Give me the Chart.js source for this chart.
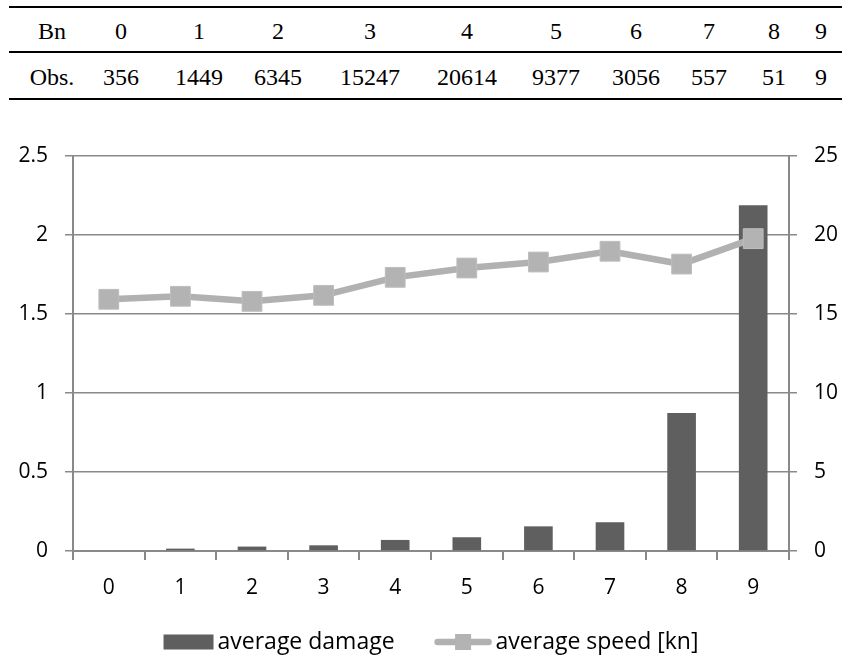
<!DOCTYPE html>
<html>
<head>
<meta charset="utf-8">
<script src="https://cdn.jsdelivr.net/npm/chart.js@4"></script>
<style>
  html, body { margin: 0; padding: 0; background: #fff; }
  #page { position: relative; width: 842px; height: 660px; overflow: hidden; }
  #obsTable { position: absolute; left: 0; top: 0; width: 842px; height: 110px;
    font-family: "Liberation Serif", "Times New Roman", serif; font-size: 24px; color: #000; }
  .rule { position: absolute; left: 9px; right: 0; height: 2px; background: #000; }
  .cell { position: absolute; transform: translateX(-50%); white-space: nowrap; line-height: 1; }
  #chartBox { position: absolute; left: 0; top: 120px; width: 842px; height: 540px; }
</style>
</head>
<body>
<div id="page">
  <div id="obsTable"></div>
  <div id="chartBox"><canvas id="chart"></canvas></div>
</div>
<script>
// Beaufort classes and number of observations per class
const beaufort = ['0', '1', '2', '3', '4', '5', '6', '7', '8', '9'];
const observations = [356, 1449, 6345, 15247, 20614, 9377, 3056, 557, 51, 9];

// Mean damage (left axis) and mean ship speed in knots (right axis)
const avgDamage = [0, 0.015, 0.028, 0.036, 0.07, 0.087, 0.156, 0.182, 0.873, 2.188];
const avgSpeed = [15.93, 16.12, 15.8, 16.18, 17.32, 17.91, 18.29, 18.97, 18.16, 19.77];

// Axis tick labels
const damageTickLabels = ['0', '0.5', '1', '1.5', '2', '2.5'];
const speedTickLabels = ['0', '5', '10', '15', '20', '25'];

const rowHeaders = ['Bn', 'Obs.'];

// ---- observation table above the chart ----
const tableCols = [52, 121, 199, 278, 370, 467, 556, 636, 709, 774, 821];
const tableRowTops = [19, 65];
const ruleTops = [6, 51, 98];
const table = document.getElementById('obsTable');
ruleTops.forEach(t => {
  const r = document.createElement('div');
  r.className = 'rule';
  r.style.top = t + 'px';
  table.appendChild(r);
});
const rows = [[rowHeaders[0], ...beaufort], [rowHeaders[1], ...observations.map(String)]];
rows.forEach((row, ri) => {
  row.forEach((txt, ci) => {
    const c = document.createElement('div');
    c.className = 'cell';
    c.textContent = txt;
    c.style.left = tableCols[ci] + 'px';
    c.style.top = tableRowTops[ri] + 'px';
    table.appendChild(c);
  });
});

// ---- chart ----
const FONT = '"Open Sans", "Noto Sans", sans-serif';
const FS = 21;
const axisGrey = '#898989';
const barColor = '#5f5f5f';
const lineColor = '#b1b1b1';
const markerColor = '#b3b3b3';

// Legend drawn under the axis: swatch + label per dataset, centred on the plot area
const seriesLegend = {
  id: 'seriesLegend',
  afterDraw(chart, args, opts) {
    const g = chart.ctx;
    const ca = chart.chartArea;
    const dsList = chart.data.datasets;
    g.save();
    g.font = `${opts.fontSize}px ${opts.fontFamily}`;
    g.textBaseline = 'middle';
    g.textAlign = 'left';
    const textW = dsList.map(ds => g.measureText(ds.label).width);
    const itemW = dsList.map((ds, i) => opts.swatchWidths[i] + opts.textGap + textW[i]);
    const total = itemW.reduce((a, b) => a + b, 0) + opts.itemGap * (dsList.length - 1);
    let x = (ca.left + ca.right) / 2 - total / 2;
    const y = ca.bottom + opts.offsetY;
    dsList.forEach((ds, i) => {
      const sw = opts.swatchWidths[i];
      if (ds.type === 'bar') {
        g.fillStyle = ds.backgroundColor;
        g.fillRect(x, y - opts.boxHeight / 2, sw, opts.boxHeight);
      } else {
        g.strokeStyle = ds.borderColor;
        g.lineWidth = ds.borderWidth;
        g.lineCap = 'round';
        g.beginPath();
        g.moveTo(x + 3, y);
        g.lineTo(x + sw - 3, y);
        g.stroke();
        const s = opts.markerSize;
        g.fillStyle = ds.pointBackgroundColor;
        g.fillRect(x + sw / 2 - s / 2, y - s / 2, s, s);
      }
      g.fillStyle = '#000';
      g.fillText(ds.label, x + sw + opts.textGap, y);
      x += itemW[i] + opts.itemGap;
    });
    g.restore();
  }
};

const ctx = document.getElementById('chart');
new Chart(ctx, {
  data: {
    labels: beaufort,
    datasets: [
      {
        type: 'bar',
        label: 'average damage',
        data: avgDamage,
        yAxisID: 'yDamage',
        backgroundColor: barColor,
        categoryPercentage: 1,
        barPercentage: 0.4,
        order: 2
      },
      {
        type: 'line',
        label: 'average speed [kn]',
        data: avgSpeed,
        yAxisID: 'ySpeed',
        borderColor: lineColor,
        borderWidth: 6.5,
        tension: 0,
        pointStyle: 'rect',
        pointRadius: 14,
        pointHoverRadius: 14,
        pointBackgroundColor: markerColor,
        pointBorderColor: '#bebebe',
        pointBorderWidth: 1,
        order: 1
      }
    ]
  },
  plugins: [seriesLegend],
  options: {
    responsive: true,
    maintainAspectRatio: false,
    animation: false,
    events: [],
    layout: { padding: { top: 36, left: 0, right: 0, bottom: 39 } },
    plugins: {
      tooltip: { enabled: false },
      legend: { display: false },
      seriesLegend: {
        fontFamily: FONT,
        fontSize: 23,
        swatchWidths: [50, 57],
        textGap: 4,
        itemGap: 40,
        boxHeight: 15,
        markerSize: 16,
        offsetY: 91
      }
    },
    scales: {
      x: {
        type: 'category',
        offset: true,
        grid: {
          offset: true,
          drawOnChartArea: false,
          drawTicks: true,
          tickLength: 9,
          color: axisGrey,
          lineWidth: 2
        },
        border: { display: true, color: axisGrey, width: 2 },
        ticks: { font: { family: FONT, size: FS }, color: '#000', padding: 15 },
        afterFit(scale) { scale.height = 70; }
      },
      yDamage: {
        type: 'linear',
        position: 'left',
        min: 0,
        max: 2.5,
        ticks: {
          stepSize: 0.5,
          font: { family: FONT, size: FS },
          color: '#000',
          padding: 17,
          callback: (v, i) => damageTickLabels[i]
        },
        grid: { color: axisGrey, lineWidth: 1.5, tickLength: 8 },
        border: { display: true, color: axisGrey, width: 2 },
        afterFit(scale) { scale.width = 73; }
      },
      ySpeed: {
        type: 'linear',
        position: 'right',
        min: 0,
        max: 25,
        ticks: {
          stepSize: 5,
          font: { family: FONT, size: FS },
          color: '#000',
          padding: 17,
          callback: (v, i) => speedTickLabels[i]
        },
        grid: { drawOnChartArea: false, color: axisGrey, lineWidth: 1.5, tickLength: 8 },
        border: { display: true, color: axisGrey, width: 2 },
        afterFit(scale) { scale.width = 53; }
      }
    }
  }
});
</script>
</body>
</html>
